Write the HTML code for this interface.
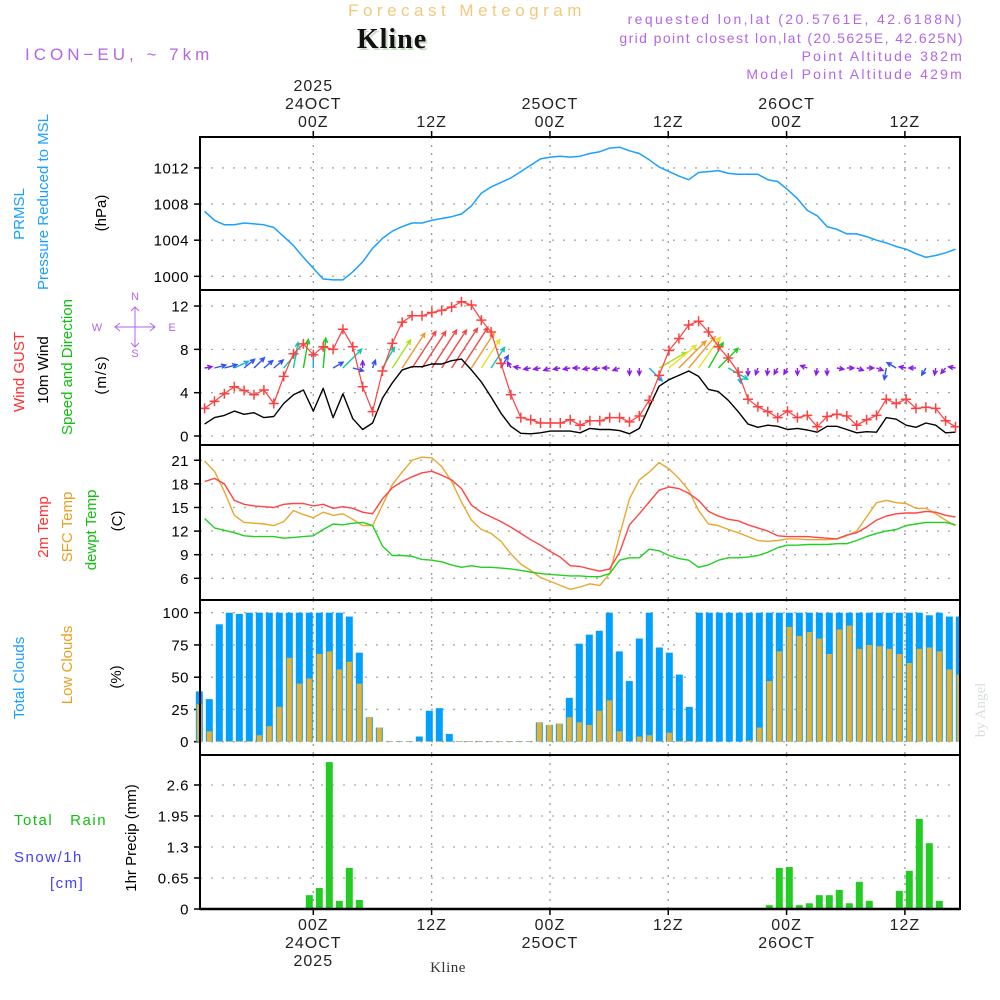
<!DOCTYPE html>
<html><head><meta charset="utf-8">
<style>
html,body{margin:0;padding:0;background:#fff;}
svg{display:block;font-family:"Liberation Sans",sans-serif;}
</style></head>
<body>
<svg id="chart" width="1000" height="1000" viewBox="0 0 1000 1000" xmlns="http://www.w3.org/2000/svg">
<g id="header">
<text x="467" y="16" text-anchor="middle" font-size="17" fill="#f2c97c" letter-spacing="4.5">Forecast Meteogram</text>
<text x="394" y="50" text-anchor="middle" font-size="28" font-weight="bold" font-family="Liberation Serif,serif" fill="#c8dcc8" letter-spacing="1">Kline</text>
<text x="392" y="48" text-anchor="middle" font-size="28" font-weight="bold" font-family="Liberation Serif,serif" fill="#111" letter-spacing="1">Kline</text>
<text x="25" y="60" font-size="17" fill="#b266e8" letter-spacing="4">ICON−EU, ~ 7km</text>
<text x="964" y="24" text-anchor="end" font-size="14" fill="#b266e8" letter-spacing="2.4">requested lon,lat (20.5761E, 42.6188N)</text>
<text x="964" y="43" text-anchor="end" font-size="14" fill="#b266e8" letter-spacing="1.4">grid point closest lon,lat (20.5625E, 42.625N)</text>
<text x="964" y="61" text-anchor="end" font-size="14" fill="#b266e8" letter-spacing="2.2">Point Altitude 382m</text>
<text x="964" y="79" text-anchor="end" font-size="14" fill="#b266e8" letter-spacing="2.2">Model Point Altitude 429m</text>
</g>
<g id="labels" font-size="15">
<text transform="translate(24,214) rotate(-90)" text-anchor="middle" fill="#1aa0ff">PRMSL</text>
<text transform="translate(48,202) rotate(-90)" text-anchor="middle" fill="#1aa0ff">Pressure Reduced to MSL</text>
<text transform="translate(106,213) rotate(-90)" text-anchor="middle" fill="#000">(hPa)</text>
<text transform="translate(24,372) rotate(-90)" text-anchor="middle" fill="#ff3030">Wind GUST</text>
<text transform="translate(48,370) rotate(-90)" text-anchor="middle" fill="#000">10m Wind</text>
<text transform="translate(72,367) rotate(-90)" text-anchor="middle" fill="#10c010">Speed and Direction</text>
<text transform="translate(106,375) rotate(-90)" text-anchor="middle" fill="#000" letter-spacing="1">(m/s)</text>
<text transform="translate(48,527) rotate(-90)" text-anchor="middle" fill="#ff3030">2m Temp</text>
<text transform="translate(72,527) rotate(-90)" text-anchor="middle" fill="#e8a020">SFC Temp</text>
<text transform="translate(96,530) rotate(-90)" text-anchor="middle" fill="#10c010">dewpt Temp</text>
<text transform="translate(122,521) rotate(-90)" text-anchor="middle" fill="#000">(C)</text>
<text transform="translate(24,678) rotate(-90)" text-anchor="middle" fill="#1aa0ff">Total Clouds</text>
<text transform="translate(72,665) rotate(-90)" text-anchor="middle" fill="#e8a020">Low Clouds</text>
<text transform="translate(121,677) rotate(-90)" text-anchor="middle" fill="#000">(%)</text>
<text transform="translate(136,838) rotate(-90)" text-anchor="middle" fill="#000">1hr Precip (mm)</text>
<text x="14" y="825" fill="#10c010" letter-spacing="1.5" xml:space="preserve">Total   Rain</text>
<text x="14" y="862" fill="#4040ff" letter-spacing="1.5">Snow/1h</text>
<text x="50" y="888" fill="#4040ff" letter-spacing="1.5">[cm]</text>
<text transform="translate(985,710) rotate(-90)" text-anchor="middle" font-family="Liberation Serif,serif" font-size="15" fill="#d8ded8">by Angel</text>
<text x="448" y="972" text-anchor="middle" font-family="Liberation Serif,serif" font-size="15" fill="#333" letter-spacing="0.5">Kline</text>
<g fill="#b266e8" font-size="11">
<text x="135" y="300" text-anchor="middle">N</text>
<text x="97" y="331" text-anchor="middle">W</text>
<text x="172" y="331" text-anchor="middle">E</text>
<text x="135" y="357" text-anchor="middle">S</text>
<path d="M115 327 H155 M135 307 V347 M120 323 L115 327 L120 331 M150 323 L155 327 L150 331 M131 311 L135 307 L139 311 M131 343 L135 347 L139 343" stroke="#b266e8" stroke-width="1" fill="none"/>
</g>
</g>
<g id="plot"></g>
</svg>
<script>
// ---- data (hourly, h = -11 .. 65 relative to 00Z 24OCT) ----
const startHour = -11;
const pressure = [1007.2,1006.2,1005.7,1005.7,1005.9,1005.8,1005.7,1005.4,1004.4,1003.4,1002.1,1000.9,999.7,999.6,999.6,1000.5,1001.6,1003.1,1004.2,1005.0,1005.5,1005.9,1005.9,1006.2,1006.4,1006.6,1006.9,1007.8,1009.2,1009.9,1010.4,1010.9,1011.6,1012.3,1013.0,1013.2,1013.3,1013.2,1013.3,1013.6,1013.8,1014.2,1014.3,1013.9,1013.6,1012.9,1012.1,1011.6,1011.1,1010.7,1011.5,1011.6,1011.7,1011.4,1011.3,1011.3,1011.3,1010.7,1010.5,1009.6,1008.6,1007.3,1006.7,1005.5,1005.2,1004.7,1004.7,1004.4,1004.0,1003.7,1003.3,1003.0,1002.5,1002.1,1002.3,1002.6,1003.0];
const gust = [2.55,3.2,3.9,4.55,4.2,3.8,4.25,3.0,5.5,7.6,8.5,7.5,8.25,8.0,9.85,8.25,4.55,2.25,6.0,8.55,10.5,11.1,11.1,11.4,11.6,11.9,12.4,12.1,10.7,9.6,6.7,3.8,1.7,1.5,1.2,1.2,1.2,1.5,1.0,1.4,1.4,1.7,1.7,1.3,1.85,3.3,5.6,7.9,9.0,10.25,10.6,9.6,8.25,7.2,5.9,3.4,2.7,2.25,1.7,2.3,1.7,1.9,0.85,1.8,2.0,1.85,1.0,1.5,1.9,3.4,3.0,3.4,2.55,2.65,2.55,1.4,0.85];
const wind = [1.1,1.7,1.9,2.3,2.0,2.15,1.7,1.8,3.0,3.8,4.25,2.3,4.4,1.7,3.9,1.6,0.6,1.2,3.5,4.9,6.1,6.4,6.4,6.65,6.65,6.95,7.1,6.1,5.0,3.6,2.1,0.9,0.25,0.2,0.3,0.45,0.45,0.45,0.3,0.7,0.6,0.6,0.5,0.2,0.7,2.7,4.6,5.2,5.6,6.0,5.5,4.3,4.1,3.3,2.25,1.1,0.8,1.0,0.9,0.6,0.7,0.55,0.35,0.9,0.9,0.6,0.3,0.4,0.35,1.7,1.55,1.0,0.8,1.2,1.0,0.3,0.35];
const windDir = [10,15,15,25,40,45,40,40,50,80,80,90,85,30,45,-15,90,70,60,57,57,57,57,57,57,57,57,57,57,57,60,120,170,190,190,200,190,190,180,190,190,180,200,-90,-90,-45,30,40,45,50,55,60,45,-30,-80,-90,-110,-95,-120,-120,-90,160,-100,-90,-10,0,-20,0,-20,-100,150,170,180,-120,-100,-130,170];
const temp2m = [18.3,18.7,18.0,15.9,15.4,15.2,15.1,15.0,15.4,15.5,15.5,15.2,15.4,14.9,15.1,14.9,14.4,14.2,16.1,17.5,18.3,18.9,19.4,19.6,19.1,18.5,17.4,15.3,14.4,13.8,13.2,12.5,11.7,10.9,10.2,9.4,8.7,7.6,7.5,7.2,6.9,7.2,9.3,12.8,14.2,15.7,17.2,17.6,17.4,16.8,15.9,14.5,13.9,13.5,13.3,12.8,12.4,12.0,11.4,11.3,11.3,11.3,11.2,11.1,11.0,11.5,11.8,12.5,13.4,13.9,14.2,14.3,14.3,14.5,14.4,14.0,13.8];
const tempSfc = [20.9,19.6,17.0,14.0,13.1,13.0,12.9,12.7,13.2,14.6,14.1,13.7,14.4,14.0,14.2,13.5,12.7,12.7,15.3,17.9,19.5,21.0,21.4,21.3,20.2,18.3,15.7,13.4,12.2,11.7,10.7,9.1,7.8,7.0,6.1,5.6,5.1,4.6,4.9,5.3,5.1,6.6,11.5,16.1,18.5,19.5,20.7,19.9,18.7,17.2,14.6,12.9,12.7,12.2,11.8,11.3,10.8,10.7,10.8,11.0,11.0,10.9,10.9,10.9,11.0,11.4,12.0,13.8,15.6,15.9,15.6,15.5,14.9,14.9,14.2,13.4,12.7];
const dewpt = [13.6,12.4,12.1,11.8,11.4,11.3,11.3,11.3,11.1,11.2,11.3,11.4,12.2,12.9,12.8,13.0,13.1,12.7,10.1,8.9,8.9,8.8,8.4,8.3,8.1,7.7,7.4,7.6,7.4,7.4,7.3,7.2,7.0,6.8,6.6,6.5,6.4,6.3,6.3,6.2,6.2,6.6,8.3,8.6,8.6,9.7,9.5,8.9,8.5,8.3,7.4,7.7,8.3,8.6,8.6,8.7,8.9,9.3,9.9,10.2,10.2,10.3,10.3,10.3,10.4,10.4,10.8,11.3,11.7,12.0,12.2,12.7,12.9,13.1,13.1,13.1,12.8];
// ---- bar data (one per hour interval, i = 0 .. 76) ----
const totalClouds = [39,33,91,100,99,100,100,100,100,100,100,100,100,100,100,97,69,19,11,0.5,0.5,0.5,4,24,26,6,0.5,0.5,0.5,0.5,0.5,0.5,0.5,0.5,15,13,14,34,76,83,86,100,70,47,80,100,73,69,52,27,100,100,100,100,100,100,100,100,100,100,100,100,100,100,100,100,100,100,100,100,100,100,100,98,100,97,97];
const lowClouds = [29,8,0.5,0.5,0.5,0.5,5,12,27,65,45,49,68,70,56,62,45,19,11,0.5,0.5,0.5,0.5,0.5,0.5,0,0.5,0.5,0.5,0.5,0.5,0.5,0.5,0.5,15,13,14,19,15,13,24,32,8,0.5,4,5,0.5,7,0.5,0.5,0,0,0,0,0,1,11,47,70,89,82,85,80,68,87,90,72,75,74,72,68,61,72,73,70,56,52];
const precip = [0,0,0,0,0,0,0,0,0,0,0,0.29,0.44,3.08,0.17,0.86,0.19,0,0,0,0,0,0,0,0,0,0,0,0,0,0,0,0,0,0,0,0,0,0,0,0,0,0,0,0,0,0,0,0,0,0,0,0,0,0,0,0,0.08,0.86,0.88,0.08,0.12,0.29,0.29,0.40,0.12,0.57,0.17,0,0,0.38,0.80,1.89,1.38,0.17,0,0];
// ---- tick labels ----
const pressTicks = [1000,1004,1008,1012];
const windTicks = [0,4,8,12];
const tempTicks = [6,9,12,15,18,21];
const cloudTicks = [0,25,50,75,100];
const precipTicks = [0,0.65,1.3,1.95,2.6];
const timeTicks = [0,12,24,36,48,60];
const topLabels = [["2025","24OCT","00Z"],["12Z"],["25OCT","00Z"],["12Z"],["26OCT","00Z"],["12Z"]];
const bottomLabels = [["00Z","24OCT","2025"],["12Z"],["00Z","25OCT"],["12Z"],["00Z","26OCT"],["12Z"]];

// ---- scales ----
const X0 = 200, X1 = 960;
const xH = h => 313.3 + h * 9.86;
const xL = i => 313.3 + (startHour + i) * 9.88;
const xB = i => 199.3 + i * 10;
const panels = {
  press: {top:137, bot:290, y: v => 276.3 - (v - 1000) * 9.03},
  wind:  {top:290, bot:445, y: v => 436 - v * 10.83},
  temp:  {top:445, bot:600, y: v => 578.3 - (v - 6) * 7.87},
  cloud: {top:600, bot:755, y: v => 741.7 - v * 1.29},
  prec:  {top:755, bot:909, y: v => 909 - v * 47.7}
};
const NS = 'http://www.w3.org/2000/svg';
const plot = document.getElementById('plot');
function mk(tag, attrs, parent) {
  const e = document.createElementNS(NS, tag);
  for (const k in attrs) e.setAttribute(k, attrs[k]);
  (parent || plot).appendChild(e);
  return e;
}
function grid(p, ticks, fmt, nm) {
  const g = mk('g', {});
  
  
  ticks.forEach(t => {
    const y = p.y(t);
    const l = mk('line', {x1:X0, x2:X1, y1:y, y2:y, stroke:'#aaa', 'stroke-width':1.3, 'stroke-dasharray':'2,9'}, g);
    
    
    mk('line', {x1:X0-6, x2:X0, y1:y, y2:y, stroke:'#000', 'stroke-width':1.5}, g);
    const tx = mk('text', {x:189, y:y+5.5, 'text-anchor':'end', 'font-size':15, fill:'#000', 'letter-spacing':'0.5'}, g);
    
    
    tx.textContent = fmt(t);
  });
  timeTicks.forEach(h => {
    const x = xH(h);
    const l = mk('line', {x1:x, x2:x, y1:p.top, y2:p.bot, stroke:'#999', 'stroke-width':1.3, 'stroke-dasharray':'2,6'}, g);
    
    
  });
}
function line(p, vals, color, nm, w) {
  const pts = vals.map((v, i) => xL(i).toFixed(1) + ',' + p.y(v).toFixed(1)).join(' ');
  const e = mk('polyline', {points:pts, fill:'none', stroke:color, 'stroke-width':w || 1.4, 'stroke-linejoin':'round'});
  
  
  return e;
}
grid(panels.press, pressTicks, t => String(t), 'pressure');
grid(panels.wind, windTicks, t => String(t), 'wind');
grid(panels.temp, tempTicks, t => String(t), 'temp');
grid(panels.cloud, cloudTicks, t => String(t), 'cloud');
grid(panels.prec, precipTicks, t => String(t), 'precip');

line(panels.press, pressure, '#1aa0ff', 'pressure-line', 1.5);

function windColor(s) {
  if (s < 1.2) return '#8a1ae6';
  if (s < 2.2) return '#3050f0';
  if (s < 3.0) return '#18a8f0';
  if (s < 4.0) return '#10c8a8';
  if (s < 4.5) return '#18cc18';
  if (s < 5.0) return '#a8e020';
  if (s < 5.6) return '#e8e020';
  if (s < 6.3) return '#f09830';
  return '#f04848';
}
const arrG = mk('g', {});


wind.forEach((s, i) => {
  const x = xL(i), y = 368;
  const len = Math.max(7, s * 6.8);
  const a = windDir[i] * Math.PI / 180;
  const x2 = x + len * Math.cos(a), y2 = y - len * Math.sin(a);
  const c = windColor(s);
  const hl = 5, ha = 0.45;
  const b1x = x2 - hl * Math.cos(a - ha), b1y = y2 + hl * Math.sin(a - ha);
  const b2x = x2 - hl * Math.cos(a + ha), b2y = y2 + hl * Math.sin(a + ha);
  const e = mk('path', {d:`M${x.toFixed(1)} ${y} L${x2.toFixed(1)} ${y2.toFixed(1)} M${b1x.toFixed(1)} ${b1y.toFixed(1)} L${x2.toFixed(1)} ${y2.toFixed(1)} L${b2x.toFixed(1)} ${b2y.toFixed(1)}`, stroke:c, 'stroke-width':1.4, fill:'none'}, arrG);
  
  
});
line(panels.wind, wind, '#000', 'wind-speed-line', 1.4);
line(panels.wind, gust, '#ff4040', 'wind-gust-line', 1.2);
const gm = mk('g', {});


gust.forEach((v, i) => {
  const x = xL(i), y = panels.wind.y(v);
  const e = mk('path', {d:`M${(x-5).toFixed(1)} ${y.toFixed(1)} H${(x+5).toFixed(1)} M${x.toFixed(1)} ${(y-5).toFixed(1)} V${(y+5).toFixed(1)}`, stroke:'#ff4040', 'stroke-width':1.5}, gm);
  
  
});

line(panels.temp, tempSfc, '#e8a830', 'sfc-temp-line', 1.4);
line(panels.temp, temp2m, '#ff4444', 'temp-2m-line', 1.4);
line(panels.temp, dewpt, '#22d022', 'dewpoint-line', 1.4);

const cg = mk('g', {});


totalClouds.forEach((v, i) => {
  const x = xB(i), y = panels.cloud.y(v);
  const w = Math.min(7, X1 - (x - 3.5));
  const e = mk('rect', {x:x-3.5, y:y, width:Math.max(0,w), height:panels.cloud.y(0)-y, fill:'#00a0ff'}, cg);
  
  
});
lowClouds.forEach((v, i) => {
  const x = xB(i), y = panels.cloud.y(v);
  const w = Math.min(5, X1 - (x - 2.5));
  const e = mk('rect', {x:x-2.5, y:y, width:Math.max(0,w), height:panels.cloud.y(0)-y, fill:'#e8b030'}, cg);
  
  
});
const pg = mk('g', {});


precip.forEach((v, i) => {
  if (v <= 0) return;
  const x = xB(i), y = panels.prec.y(v);
  const e = mk('rect', {x:x-3.5, y:y, width:7, height:panels.prec.y(0)-y, fill:'#22cc22'}, pg);
  
  
});

[panels.press, panels.wind, panels.temp, panels.cloud, panels.prec].forEach(p => {
  const e = mk('rect', {x:X0, y:p.top, width:X1-X0, height:p.bot-p.top, fill:'none', stroke:'#000', 'stroke-width':2});
  
  
});
mk('line', {x1:X0, x2:X1, y1:909, y2:909, stroke:'#000', 'stroke-width':2.5});
const tl = mk('g', {'font-size':16, fill:'#222', 'text-anchor':'middle', 'letter-spacing':'1'});


timeTicks.forEach((h, k) => {
  const x = xH(h);
  mk('line', {x1:x, x2:x, y1:131, y2:137, stroke:'#000', 'stroke-width':1.5}, tl);
  mk('line', {x1:x, x2:x, y1:909, y2:915, stroke:'#000', 'stroke-width':1.5}, tl);
  const top = topLabels[k];
  top.forEach((s, j) => {
    const e = mk('text', {x:x, y:127 - (top.length - 1 - j) * 18}, tl);
    
    
    e.textContent = s;
  });
  bottomLabels[k].forEach((s, j) => {
    const e = mk('text', {x:x, y:930 + j * 18}, tl);
    
    
    e.textContent = s;
  });
});
</script>
</body></html>
